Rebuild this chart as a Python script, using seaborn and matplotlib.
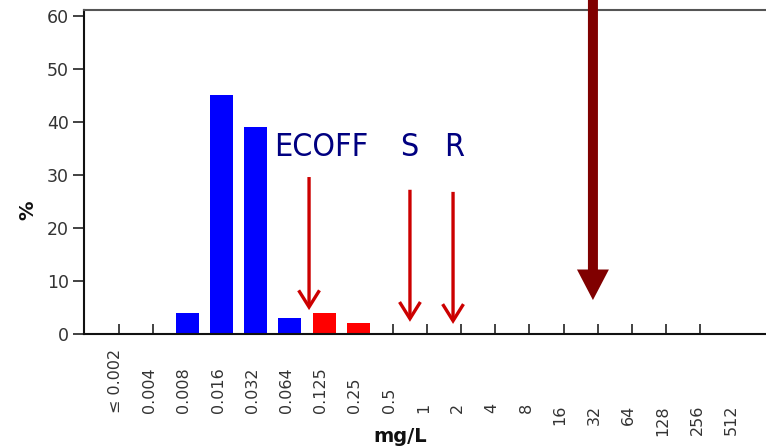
import matplotlib
matplotlib.use("Agg")
import matplotlib.pyplot as plt
import seaborn as sns
import pandas as pd

# MIC distribution (percent of isolates per concentration)
concentrations = ["≤ 0.002", "0.004", "0.008", "0.016", "0.032", "0.064", "0.125",
                  "0.25", "0.5", "1", "2", "4", "8", "16", "32", "64", "128", "256", "512"]
percent = [0, 0, 4, 45, 39, 3, 4, 2, 0, 0, 0, 0, 0, 0, 0, 0, 0, 0, 0]
group = ["wild", "wild", "wild", "wild", "wild", "wild", "non-wild", "non-wild",
         "wild", "wild", "wild", "wild", "wild", "wild", "wild", "wild", "wild", "wild", "wild"]

# Breakpoint markers: label, arrow x (category units), arrow top / tip (percent)
marker_labels = ["ECOFF", "S", "R"]
marker_x = [5.56, 8.51, 9.77]
marker_top = [29.6, 27.2, 26.8]
marker_tip = [4.5, 2.3, 1.9]
label_x = [5.91, 8.48, 9.80]
label_y = 35.1

# Heavy arrow position
big_arrow_x = 13.86
big_arrow_tip = 6.4

sns.set_style("ticks")
plt.rcParams["font.family"] = ["DejaVu Sans"]

df = pd.DataFrame({"conc": concentrations, "pct": percent, "group": group})

fig = plt.figure(figsize=(7.66, 4.47), dpi=100)
ax = fig.add_axes([84 / 766, 113 / 447, (766 - 84) / 766, 324 / 447])

sns.barplot(data=df, x="conc", y="pct", hue="group", order=concentrations,
            palette={"wild": "#0000FF", "non-wild": "#FF0000"}, saturation=1,
            width=0.67, dodge=False, linewidth=0, legend=False, ax=ax)

ax.set_xlim(-1.02, 18.92)
ax.set_ylim(0, 61.1)
ax.set_yticks(range(0, 61, 10))
ax.set_xticks(range(18))
ax.set_xticklabels([])
ax.set_xlabel("")
ax.set_ylabel("")

ax.tick_params(axis="x", direction="in", length=7, width=1.2, color="#222222")
ax.tick_params(axis="y", direction="out", length=8, width=1.2, color="#222222",
               labelsize=12.5, labelcolor="#333333", pad=3)

for side in ["left", "bottom"]:
    ax.spines[side].set_color("#111111")
    ax.spines[side].set_linewidth(1.5)
ax.spines["top"].set_color("#555555")
ax.spines["top"].set_linewidth(1.5)
ax.spines["right"].set_visible(False)

# Concentration labels below the axis
trans = ax.get_xaxis_transform()
for i, lab in enumerate(concentrations):
    if i < 13:
        ax.text(i - 0.1, -0.244, lab, rotation=90, ha="center", va="bottom",
                fontsize=11.5, color="#333333", transform=trans, clip_on=False)
    else:
        ax.text(i - 0.1, -0.219, lab, rotation=90, ha="center", va="top",
                fontsize=11.5, color="#333333", transform=trans, clip_on=False)

# Breakpoint arrows and labels
for lab, x, top, tip, lx in zip(marker_labels, marker_x, marker_top, marker_tip, label_x):
    ax.annotate("", xy=(x, tip), xytext=(x, top),
                arrowprops=dict(arrowstyle="->,head_length=1.2,head_width=0.75",
                                color="#CC0000", lw=2.4, shrinkA=0, shrinkB=0,
                                capstyle="butt", joinstyle="miter"))
    ax.text(lx, label_y, lab, ha="center", va="center", fontsize=23,
            color="#000080", family="DejaVu Sans", stretch="condensed")

# Heavy arrow entering from above the plot
ax.annotate("", xy=(big_arrow_x, big_arrow_tip), xytext=(big_arrow_x, 70),
            annotation_clip=False,
            arrowprops=dict(arrowstyle="simple,head_length=2.2,head_width=2.3,tail_width=0.72",
                            facecolor="#800000", edgecolor="none", lw=0,
                            shrinkA=0, shrinkB=0, mutation_scale=10))

fig.text(28 / 766, 1 - 210 / 447, "%", rotation=90, ha="center", va="center",
         fontsize=14, fontweight="bold", color="#111111")
fig.text(400 / 766, 1 - 437 / 447, "mg/L", ha="center", va="center",
         fontsize=14, fontweight="bold", color="#111111")

fig.savefig("out.png", dpi=100, facecolor="white")
